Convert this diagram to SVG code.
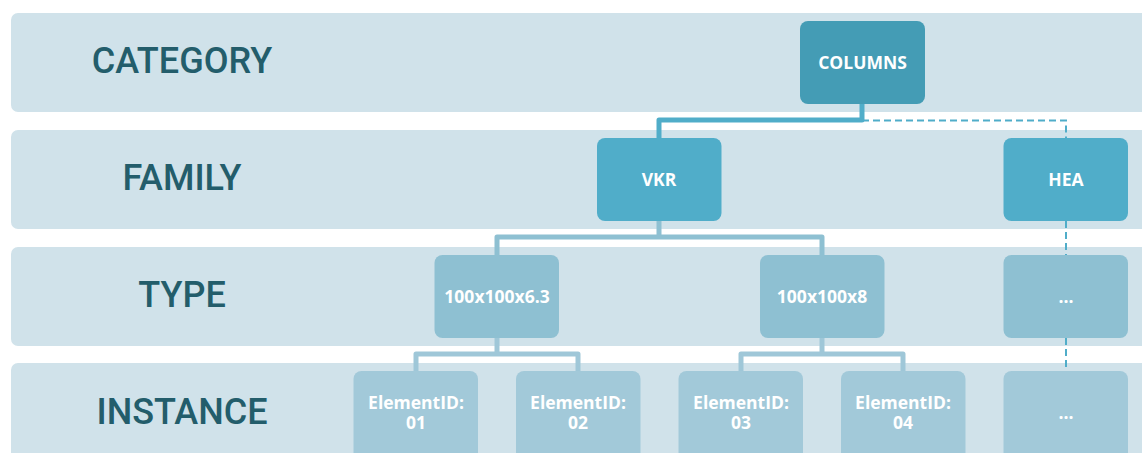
<svg xmlns="http://www.w3.org/2000/svg" width="1142" height="453" viewBox="0 0 1142 453">
  <style>
    .band { fill: #d0e2ea; }
    .lvl { font-family: Roboto, "Liberation Sans", sans-serif; font-weight: 500; font-size: 36px; fill: #235d6b; text-anchor: middle; }
    .node text { font-family: "Open Sans", "Liberation Sans", sans-serif; font-weight: 700; font-size: 17.5px; fill: #ffffff; text-anchor: middle; }
    .cat { fill: #449cb5; }
    .fam { fill: #50adc9; }
    .typ { fill: #8ec0d2; }
    .ins { fill: #a2c9d9; }
    .c-main { fill: none; stroke: #50adc9; stroke-width: 5; stroke-linejoin: round; }
    .c-dash { fill: none; stroke: #50adc9; stroke-width: 2; stroke-dasharray: 7 4; }
    .c-type { fill: none; stroke: #8ec0d2; stroke-width: 5; stroke-linejoin: round; }
    .c-inst { fill: none; stroke: #9fc7d8; stroke-width: 5; stroke-linejoin: round; }
  </style>

  <!-- hierarchy level bands -->
  <g id="bands">
    <rect class="band" x="11" y="13" width="1150" height="99" rx="7"/>
    <rect class="band" x="11" y="130" width="1150" height="99" rx="7"/>
    <rect class="band" x="11" y="247" width="1150" height="99" rx="7"/>
    <rect class="band" x="11" y="363" width="1150" height="100" rx="7"/>
    <text class="lvl" x="182" y="73">CATEGORY</text>
    <text class="lvl" x="182" y="190">FAMILY</text>
    <text class="lvl" x="182" y="307">TYPE</text>
    <text class="lvl" x="182" y="424">INSTANCE</text>
  </g>

  <!-- connectors -->
  <g id="connectors">
    <path class="c-main" d="M862 104 V120 H659 V138"/>
    <path class="c-dash" d="M862 120.5 H1066 V138"/>
    <path class="c-dash" d="M1066 221 V255"/>
    <path class="c-dash" d="M1066 338 V371"/>
    <path class="c-type" d="M659 221 V237 M497 255 V237 H822 V255"/>
    <path class="c-inst" d="M497 338 V354 M416 371 V354 H578 V371"/>
    <path class="c-inst" d="M822 338 V354 M741 371 V354 H903 V371"/>
  </g>

  <g id="columns" class="node">
    <rect class="cat" x="800" y="21" width="125" height="83" rx="8"/>
    <text x="862.5" y="68.5">COLUMNS</text>
  </g>
  <g id="vkr" class="node">
    <rect class="fam" x="597" y="138" width="124.5" height="83" rx="8"/>
    <text x="659" y="185.5">VKR</text>
  </g>
  <g id="hea" class="node">
    <rect class="fam" x="1003.5" y="138" width="124.5" height="83" rx="8"/>
    <text x="1066" y="185.5">HEA</text>
  </g>
  <g id="type-63" class="node">
    <rect class="typ" x="434.5" y="255" width="124.5" height="83" rx="8"/>
    <text x="497" y="302.5">100x100x6.3</text>
  </g>
  <g id="type-8" class="node">
    <rect class="typ" x="760" y="255" width="124.5" height="83" rx="8"/>
    <text x="822" y="302.5">100x100x8</text>
  </g>
  <g id="type-more" class="node">
    <rect class="typ" x="1003.5" y="255" width="124.5" height="83" rx="8"/>
    <text x="1066" y="302.5">...</text>
  </g>
  <g id="inst-01" class="node">
    <rect class="ins" x="353.5" y="371" width="124.5" height="90" rx="8"/>
    <text x="416" y="408.5">ElementID:<tspan x="416" dy="20.5">01</tspan></text>
  </g>
  <g id="inst-02" class="node">
    <rect class="ins" x="516" y="371" width="124.5" height="90" rx="8"/>
    <text x="578" y="408.5">ElementID:<tspan x="578" dy="20.5">02</tspan></text>
  </g>
  <g id="inst-03" class="node">
    <rect class="ins" x="678.5" y="371" width="124.5" height="90" rx="8"/>
    <text x="741" y="408.5">ElementID:<tspan x="741" dy="20.5">03</tspan></text>
  </g>
  <g id="inst-04" class="node">
    <rect class="ins" x="841" y="371" width="124.5" height="90" rx="8"/>
    <text x="903" y="408.5">ElementID:<tspan x="903" dy="20.5">04</tspan></text>
  </g>
  <g id="inst-more" class="node">
    <rect class="ins" x="1003.5" y="371" width="124.5" height="90" rx="8"/>
    <text x="1066" y="419">...</text>
  </g>
</svg>
